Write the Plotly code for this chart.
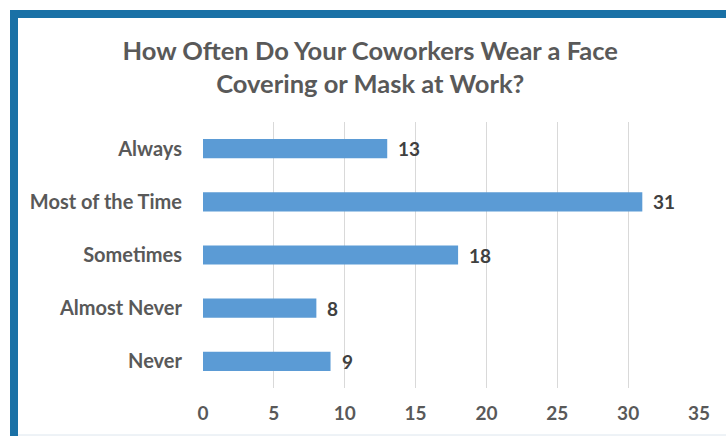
import plotly.graph_objects as go

# Survey responses
categories = ["Always", "Most of the Time", "Sometimes", "Almost Never", "Never"]
counts = [13, 31, 18, 8, 9]
x_ticks = [0, 5, 10, 15, 20, 25, 30, 35]

W, H = 726, 436
L, R, T, B = 203, 27, 122, 48
pw, ph = W - L - R, H - T - B


def px_x(p):
    return (p - L) / pw


def px_y(p):
    return 1 - (p - T) / ph


font = "Lato, 'Open Sans', sans-serif"
grey = "#595959"

fig = go.Figure(
    go.Bar(
        x=counts,
        y=categories,
        orientation="h",
        marker=dict(color="#5B9BD5", line=dict(width=0)),
        width=0.36,
        hoverinfo="x+y",
    )
)

# value labels just right of each bar end
for cat, val in zip(categories, counts):
    fig.add_annotation(
        x=val, y=cat, xref="x", yref="y",
        text=str(val), showarrow=False,
        xanchor="left", yanchor="middle", xshift=9,
        font=dict(family=font, size=19, color="#404040", weight="bold"),
    )

fig.update_layout(
    width=W,
    height=H,
    margin=dict(l=L, r=R, t=T, b=B),
    paper_bgcolor="white",
    plot_bgcolor="white",
    showlegend=False,
    title=dict(
        text="How Often Do Your Coworkers Wear a Face<br>Covering or Mask at Work?",
        x=0.51,
        xanchor="center",
        y=1 - 60 / H,
        yanchor="middle",
        font=dict(family=font, size=25.5, color=grey, weight="bold"),
    ),
    xaxis=dict(
        range=[0, 35],
        tickvals=x_ticks,
        showgrid=True,
        gridcolor="#d9d9d9",
        gridwidth=1,
        zeroline=False,
        showline=False,
        ticks="",
        tickfont=dict(family=font, size=19, color=grey, weight="bold"),
        ticklabelstandoff=12,
    ),
    yaxis=dict(
        categoryorder="array",
        categoryarray=categories[::-1],
        showgrid=False,
        zeroline=False,
        showline=False,
        ticks="",
        tickfont=dict(family=font, size=20, color=grey, weight="bold"),
        ticklabelstandoff=20,
    ),
    shapes=[
        # frame: top band
        dict(type="rect", xref="paper", yref="paper",
             x0=px_x(10), x1=px_x(W + 5), y0=px_y(18), y1=px_y(10),
             fillcolor="#1A71A6", line=dict(width=0), layer="above"),
        # frame: left band
        dict(type="rect", xref="paper", yref="paper",
             x0=px_x(10), x1=px_x(18), y0=px_y(H + 5), y1=px_y(10),
             fillcolor="#1A71A6", line=dict(width=0), layer="above"),
        # faint bottom edge
        dict(type="line", xref="paper", yref="paper",
             x0=px_x(18), x1=px_x(W), y0=px_y(435), y1=px_y(435),
             line=dict(color="#dde6ee", width=1)),
    ],
)

fig.write_html("out.html")
